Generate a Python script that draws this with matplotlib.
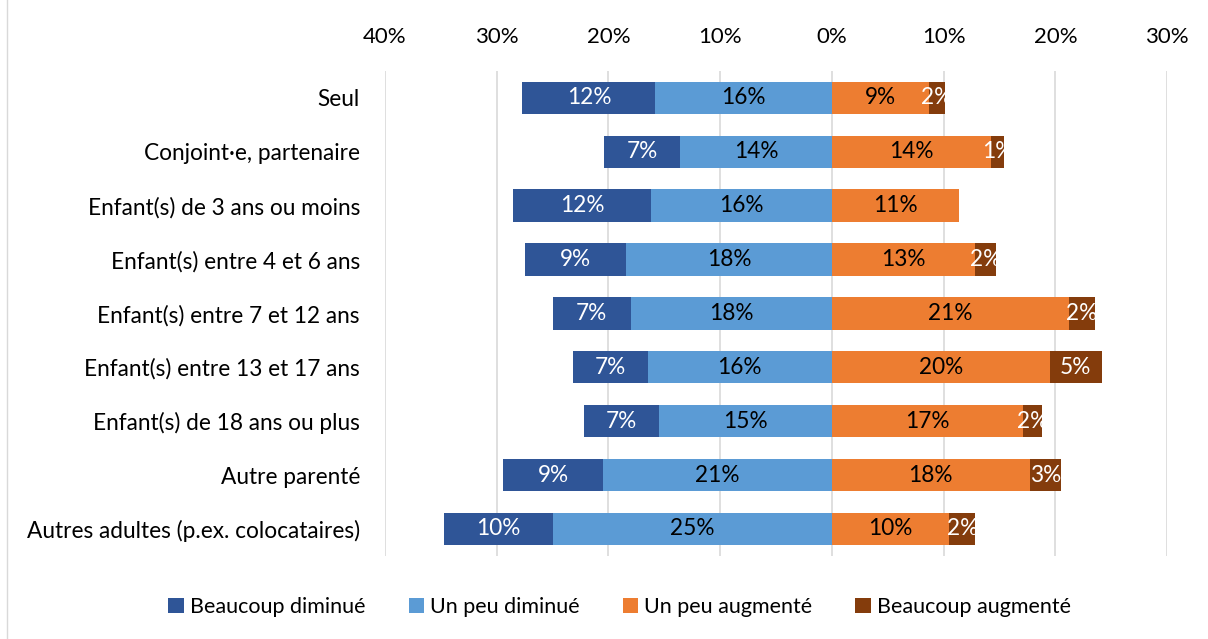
import matplotlib.pyplot as plt
from matplotlib.patches import Rectangle

plt.rcParams['font.family'] = ['Lato', 'DejaVu Sans']

categories = ["Seul", "Conjoint·e, partenaire", "Enfant(s) de 3 ans ou moins",
              "Enfant(s) entre 4 et 6 ans", "Enfant(s) entre 7 et 12 ans",
              "Enfant(s) entre 13 et 17 ans", "Enfant(s) de 18 ans ou plus",
              "Autre parenté", "Autres adultes (p.ex. colocataires)"]

# bar lengths in %
beaucoup_dim = [11.9, 6.8, 12.35, 9.1, 7.0, 6.7, 6.65, 8.9, 9.7]
peu_dim = [15.8, 13.6, 16.2, 18.4, 18.0, 16.5, 15.5, 20.5, 25.0]
peu_aug = [8.65, 14.2, 11.35, 12.85, 21.2, 19.5, 17.1, 17.7, 10.5]
beaucoup_aug = [1.45, 1.25, 0.0, 1.8, 2.35, 4.65, 1.7, 2.8, 2.35]

# data labels as printed on the chart
lab_bd = [12, 7, 12, 9, 7, 7, 7, 9, 10]
lab_pd = [16, 14, 16, 18, 18, 16, 15, 21, 25]
lab_pa = [9, 14, 11, 13, 21, 20, 17, 18, 10]
lab_ba = [2, 1, None, 2, 2, 5, 2, 3, 2]

series = ["Beaucoup diminué", "Un peu diminué", "Un peu augmenté", "Beaucoup augmenté"]
colors = ["#2F5597", "#5B9BD5", "#ED7D31", "#843C0C"]
ticks = [-40, -30, -20, -10, 0, 10, 20, 30]

fig = plt.figure(figsize=(12.08, 6.39), dpi=100)
ax = fig.add_axes([0.3187, 0.130, 0.6474, 0.759])

y = list(range(len(categories)))
h = 0.6
left_pd = [-v for v in peu_dim]
left_bd = [-(a + b) for a, b in zip(peu_dim, beaucoup_dim)]

b1 = ax.barh(y, beaucoup_dim, left=left_bd, height=h, color=colors[0], label=series[0], zorder=3)
b2 = ax.barh(y, peu_dim, left=left_pd, height=h, color=colors[1], label=series[1], zorder=3)
b3 = ax.barh(y, peu_aug, left=0, height=h, color=colors[2], label=series[2], zorder=3)
b4 = ax.barh(y, beaucoup_aug, left=peu_aug, height=h, color=colors[3], label=series[3], zorder=3)

fs = 16.3
for i in y:
    ax.text(left_bd[i] + beaucoup_dim[i] / 2, i, f"{lab_bd[i]}%", ha='center', va='center',
            color='white', fontsize=fs, zorder=4)
    ax.text(-peu_dim[i] / 2, i, f"{lab_pd[i]}%", ha='center', va='center',
            color='black', fontsize=fs, zorder=4)
    ax.text(peu_aug[i] / 2, i, f"{lab_pa[i]}%", ha='center', va='center',
            color='black', fontsize=fs, zorder=4)
    if lab_ba[i] is not None:
        ax.text(peu_aug[i] + beaucoup_aug[i] / 2, i, f"{lab_ba[i]}%", ha='center', va='center',
                color='white', fontsize=fs, zorder=4)

ax.set_xlim(-40, 30)
ax.set_ylim(len(categories) - 0.5, -0.5)
ax.set_xticks(ticks)
ax.set_xticklabels([f"{abs(t)}%" for t in ticks], fontsize=16)
ax.xaxis.tick_top()
ax.tick_params(axis='x', length=0, pad=17)
ax.set_yticks(y)
ax.set_yticklabels(categories, fontsize=fs)
ax.tick_params(axis='y', length=0, pad=18)
ax.grid(axis='x', color='#D9D9D9', linewidth=1.2, zorder=0)
for s in ax.spines.values():
    s.set_visible(False)

fig.legend(handles=[b1, b2, b3, b4], labels=series, loc='center', ncol=4,
           bbox_to_anchor=(0.513, 0.05), frameon=False, fontsize=15.5,
           handlelength=0.7, handleheight=0.7, handletextpad=0.3, columnspacing=2.0)

fig.patches.append(Rectangle((0.006, -0.01), 1.1, 1.1, transform=fig.transFigure,
                             fill=False, edgecolor='#D9D9D9', linewidth=1))

fig.savefig("out.png", dpi=100)
